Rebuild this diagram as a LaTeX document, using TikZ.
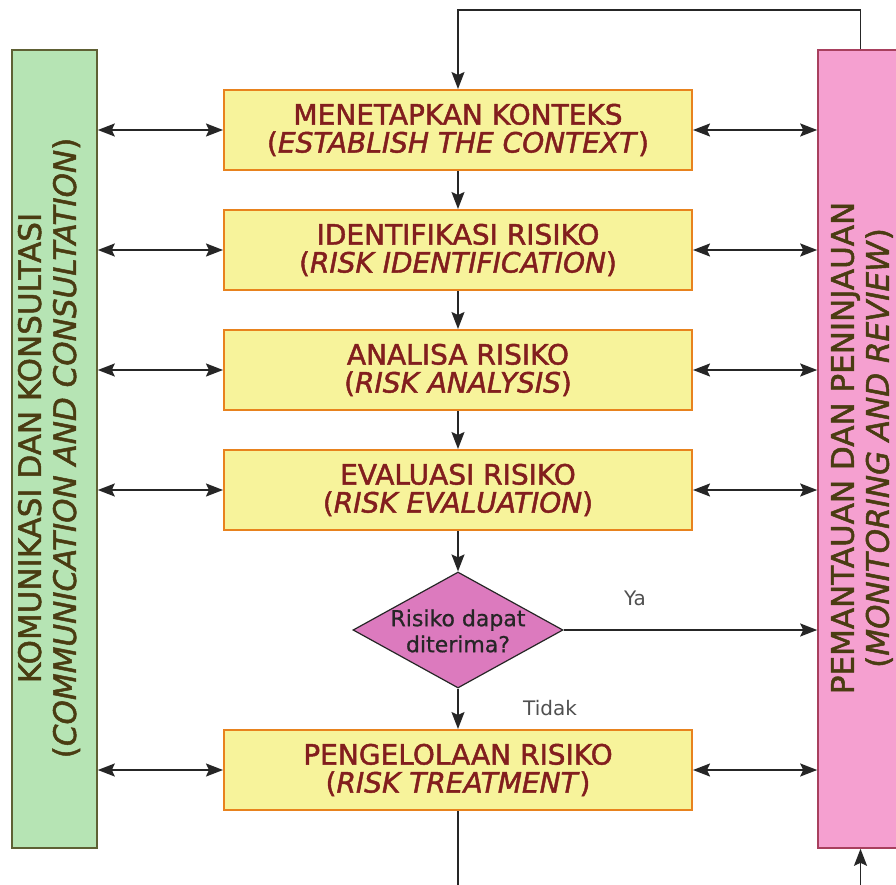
\documentclass[tikz,border=0pt]{standalone}
\usepackage{fontspec}
\setmainfont{DejaVu Sans}
\newfontfamily\heavysans{DejaVu Sans}[FakeBold=1.6]
\newfontfamily\midsans{DejaVu Sans}[FakeBold=0.8]
\usetikzlibrary{shapes.geometric,arrows.meta}

\definecolor{boxfill}{HTML}{F7F39B}
\definecolor{boxline}{HTML}{E8821E}
\definecolor{boxink}{HTML}{821E1E}
\definecolor{greenfill}{HTML}{B6E4B4}
\definecolor{greenline}{HTML}{5E6034}
\definecolor{pinkfill}{HTML}{F5A0D0}
\definecolor{pinkline}{HTML}{A8405E}
\definecolor{barink}{HTML}{4A3C12}
\definecolor{decfill}{HTML}{DC7ABE}
\definecolor{wire}{HTML}{262626}
\definecolor{labelgray}{HTML}{505050}

\begin{document}
\begin{tikzpicture}[x=1pt,y=-1pt,
  tip/.tip={Stealth[length=17pt,width=13pt,inset=3pt]},
  stepbox/.style={draw=boxline, line width=2pt, fill=boxfill,
    minimum width=468pt, minimum height=80pt, inner sep=0pt,
    align=center, text=boxink, font=\heavysans\fontsize{28}{28}\selectfont},
  sidebar/.style={line width=1.6pt, minimum width=85pt,
    minimum height=798pt, inner sep=0pt},
  bartext/.style={rotate=90, align=center, text=barink,
    inner sep=0pt, font=\heavysans\fontsize{31}{35}\selectfont},
  decision/.style={diamond, draw=wire, line width=1.2pt, fill=decfill,
    minimum width=210pt, minimum height=116pt, inner sep=0pt},
  dectext/.style={align=center, text=wire, inner sep=0pt,
    font=\midsans\fontsize{22}{26}\selectfont},
  choice/.style={text=labelgray, inner sep=0pt,
    font=\fontsize{20}{24}\selectfont},
  flow/.style={draw=wire, line width=1.6pt, -tip},
  both/.style={draw=wire, line width=1.8pt, tip-tip},
]
\path[use as bounding box] (0,0) rectangle (896,885);
\clip (0,0) rectangle (896,885);
\fill[white] (0,0) rectangle (896,885);

% side bars
\node[sidebar, fill=greenfill, draw=greenline] (kom) at (54.5,449) {};
\node[sidebar, fill=pinkfill, draw=pinkline] (mon) at (860.5,449) {};
\node[bartext] (komtext) at (49,448)
  {KOMUNIKASI DAN KONSULTASI\\(\textit{COMMUNICATION AND CONSULTATION})};
\node[bartext] (montext) at (862,448)
  {PEMANTAUAN DAN PENINJAUAN\\(\textit{MONITORING AND REVIEW})};

% process steps
\node[stepbox] (ctx)   at (458,130) {MENETAPKAN KONTEKS\\(\textit{ESTABLISH THE CONTEXT})};
\node[stepbox] (ident) at (458,250) {IDENTIFIKASI RISIKO\\(\textit{RISK IDENTIFICATION})};
\node[stepbox] (anal)  at (458,370) {ANALISA RISIKO\\(\textit{RISK ANALYSIS})};
\node[stepbox] (eval)  at (458,490) {EVALUASI RISIKO\\(\textit{RISK EVALUATION})};
\node[decision] (dec)  at (458,630) {};
\node[dectext] (q)     at (458,631) {Risiko dapat\\diterima?};
\node[stepbox] (treat) at (458,770) {PENGELOLAAN RISIKO\\(\textit{RISK TREATMENT})};

% branch labels
\node[choice] (ya)    at (635,598) {Ya};
\node[choice] (tidak) at (550,708) {Tidak};

% main flow
\draw[flow] (ctx.south) -- (ident.north);
\draw[flow] (ident.south) -- (anal.north);
\draw[flow] (anal.south) -- (eval.north);
\draw[flow] (eval.south) -- (dec.north);
\draw[flow] (dec.south) -- (treat.north);
\draw[flow] (dec.east) -- (dec.east -| mon.west);

% feedback loops
\coordinate (looptop)  at (860.5,10);
\coordinate (loopleft) at (458,10);
\draw[flow] (mon.north) -- (looptop) -- (loopleft) -- (ctx.north);
\coordinate (botleft)  at (458,905);
\coordinate (botright) at (860.5,905);
\draw[flow] (treat.south) -- (botleft) -- (botright) -- (mon.south);

% communication and monitoring links
\foreach \s in {ctx,ident,anal,eval,treat}{
  \draw[both] (kom.east |- \s.west) -- (\s.west);
  \draw[both] (\s.east) -- (\s.east -| mon.west);
}
\end{tikzpicture}
\end{document}
